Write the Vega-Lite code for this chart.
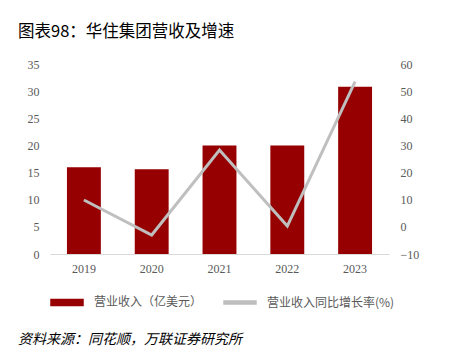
{
  "$schema": "https://vega.github.io/schema/vega-lite/v6.json",
  "background": "white",
  "padding": {"left": 18, "top": 23, "right": 5, "bottom": 5},
  "config": {"view": {"stroke": null}, "font": "Liberation Serif"},
  "title": {"text": "资料来源：同花顺，万联证券研究所", "orient": "bottom", "anchor": "start", "font": "Noto Sans CJK SC", "fontStyle": "italic", "fontSize": 14, "fontWeight": "normal", "color": "#000000", "offset": 24},
  "vconcat": [
    {
      "title": {"text": "图表98：华住集团营收及增速", "anchor": "start", "frame": "group", "dx": -32, "font": "Noto Sans CJK SC", "fontSize": 16.5, "fontWeight": "normal", "color": "#000000", "offset": 18},
      "width": 339,
      "height": 190,
      "data": {"values": [
        {"year": "2019", "revenue": 16.0, "growth": 9.9},
        {"year": "2020", "revenue": 15.6, "growth": -3.0},
        {"year": "2021", "revenue": 20.0, "growth": 28.3},
        {"year": "2022", "revenue": 20.0, "growth": 0.3},
        {"year": "2023", "revenue": 30.8, "growth": 53.5}
      ]},
      "encoding": {
        "x": {"field": "year", "type": "ordinal", "title": null,
          "scale": {"paddingInner": 0.5, "paddingOuter": 0.25},
          "axis": {"labelAngle": 0, "ticks": false, "domainColor": "#d9d9d9", "domainWidth": 1, "labelColor": "#595959", "labelFontSize": 12, "labelFont": "Liberation Serif", "labelPadding": 9}}
      },
      "layer": [
        {
          "mark": {"type": "bar"},
          "encoding": {
            "y": {"field": "revenue", "type": "quantitative", "title": null,
              "scale": {"domain": [0, 35], "nice": false},
              "axis": {"values": [0, 5, 10, 15, 20, 25, 30, 35], "grid": false, "domain": false, "ticks": false, "labelColor": "#595959", "labelFontSize": 12, "labelFont": "Liberation Serif", "labelPadding": 11}},
            "color": {"datum": "营业收入（亿美元）", "type": "nominal",
              "scale": {"domain": ["营业收入（亿美元）", "营业收入同比增长率(%)"], "range": ["#960000", "#bfbfbf"]},
              "legend": {"orient": "bottom", "direction": "horizontal", "title": null, "symbolSize": 1024, "labelOffset": 10, "columnPadding": 18, "labelFontSize": 12, "labelFont": "Noto Sans CJK SC", "labelColor": "#595959", "offset": 11,
                "encode": {"symbols": {"update": {
                  "shape": {"signal": "datum.value === '营业收入（亿美元）' ? 'M-1,-0.19H1V0.19H-1Z' : 'M-1,-0.1H1V0.1H-1Z'"},
                  "fill": {"scale": "color", "field": "value"},
                  "stroke": {"value": "transparent"},
                  "opacity": {"value": 1}
                }}}}}
          }
        },
        {
          "mark": {"type": "line", "strokeWidth": 3},
          "encoding": {
            "y": {"field": "growth", "type": "quantitative", "title": null,
              "scale": {"domain": [-10, 60], "nice": false},
              "axis": {"orient": "right", "values": [-10, 0, 10, 20, 30, 40, 50, 60], "grid": false, "domain": false, "ticks": false, "labelColor": "#595959", "labelFontSize": 12, "labelFont": "Liberation Serif", "labelPadding": 11}},
            "color": {"datum": "营业收入同比增长率(%)", "type": "nominal"}
          }
        }
      ],
      "resolve": {"scale": {"y": "independent"}}
    }
  ]
}
